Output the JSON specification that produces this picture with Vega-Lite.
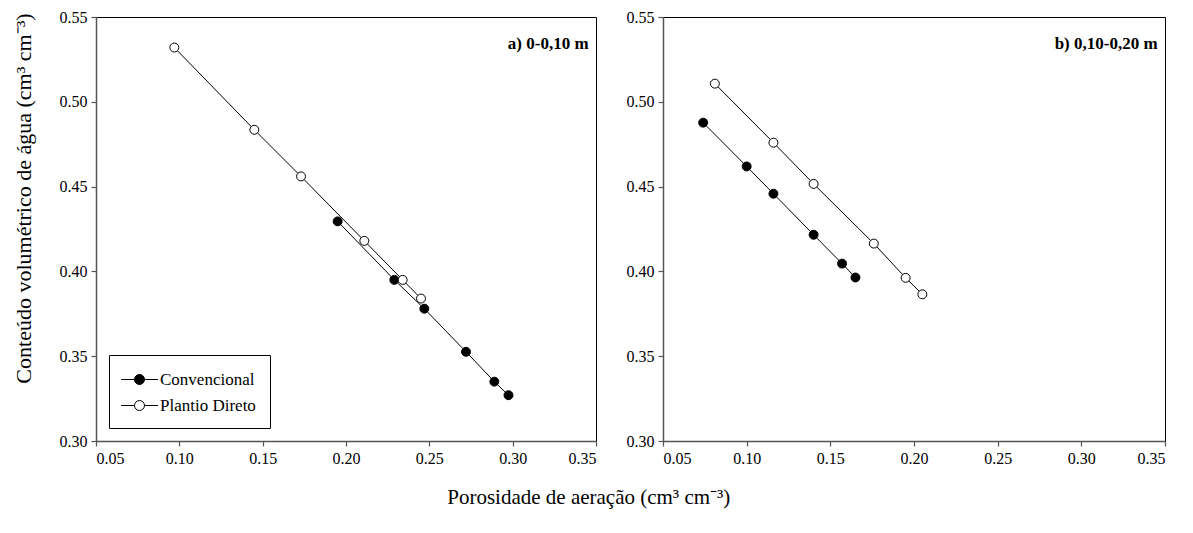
{
  "$schema": "https://vega.github.io/schema/vega-lite/v6.json",
  "background": "white",
  "padding": {"left": 11, "top": 8, "right": 5, "bottom": 5},
  "data": {"values": [
    {"panel": "a", "sistema": "Convencional", "x": 0.195, "y": 0.4295},
    {"panel": "a", "sistema": "Convencional", "x": 0.229, "y": 0.395},
    {"panel": "a", "sistema": "Convencional", "x": 0.247, "y": 0.378},
    {"panel": "a", "sistema": "Convencional", "x": 0.272, "y": 0.3526},
    {"panel": "a", "sistema": "Convencional", "x": 0.289, "y": 0.335},
    {"panel": "a", "sistema": "Convencional", "x": 0.2975, "y": 0.327},
    {"panel": "a", "sistema": "Plantio Direto", "x": 0.097, "y": 0.532},
    {"panel": "a", "sistema": "Plantio Direto", "x": 0.145, "y": 0.4835},
    {"panel": "a", "sistema": "Plantio Direto", "x": 0.173, "y": 0.456},
    {"panel": "a", "sistema": "Plantio Direto", "x": 0.211, "y": 0.418},
    {"panel": "a", "sistema": "Plantio Direto", "x": 0.234, "y": 0.395},
    {"panel": "a", "sistema": "Plantio Direto", "x": 0.245, "y": 0.384},
    {"panel": "b", "sistema": "Convencional", "x": 0.074, "y": 0.4877},
    {"panel": "b", "sistema": "Convencional", "x": 0.100, "y": 0.4619},
    {"panel": "b", "sistema": "Convencional", "x": 0.116, "y": 0.4458},
    {"panel": "b", "sistema": "Convencional", "x": 0.140, "y": 0.4216},
    {"panel": "b", "sistema": "Convencional", "x": 0.157, "y": 0.4046},
    {"panel": "b", "sistema": "Convencional", "x": 0.165, "y": 0.3964},
    {"panel": "b", "sistema": "Plantio Direto", "x": 0.081, "y": 0.5107},
    {"panel": "b", "sistema": "Plantio Direto", "x": 0.116, "y": 0.4759},
    {"panel": "b", "sistema": "Plantio Direto", "x": 0.140, "y": 0.4516},
    {"panel": "b", "sistema": "Plantio Direto", "x": 0.176, "y": 0.4164},
    {"panel": "b", "sistema": "Plantio Direto", "x": 0.195, "y": 0.3962},
    {"panel": "b", "sistema": "Plantio Direto", "x": 0.205, "y": 0.3865}
  ]},
  "config": {
    "font": "Liberation Serif, Times New Roman, serif",
    "view": {"stroke": "black", "strokeWidth": 1},
    "axis": {
      "labelFont": "Liberation Serif, Times New Roman, serif", "labelFontSize": 16, "labelColor": "black",
      "domainColor": "#555", "domainWidth": 1.5, "tickColor": "#555", "tickSize": 5, "tickWidth": 1.2,
      "grid": false, "titleFont": "Liberation Serif, Times New Roman, serif", "titleFontWeight": "normal", "titleColor": "black", "labelPadding": 4
    },
    "legend": {"labelFont": "Liberation Serif, Times New Roman, serif"},
    "title": {"font": "Liberation Serif, Times New Roman, serif", "color": "black"}
  },
  "title": {"text": "Porosidade de aeração (cm³ cm⁻³)", "orient": "bottom", "anchor": "middle", "font": "Liberation Serif, Times New Roman, serif", "fontSize": 21, "fontWeight": "normal", "offset": 20},
  "bounds": "flush",
  "spacing": 67,
  "hconcat": [
    {
      "width": 500, "height": 424,
      "title": {"text": "a) 0-0,10 m", "anchor": "end", "orient": "top", "offset": -44, "dx": -8, "font": "Liberation Serif, Times New Roman, serif", "fontSize": 17, "fontWeight": "bold"},
      "transform": [{"filter": "datum.panel === 'a'"}],
      "encoding": {
        "x": {"field": "x", "type": "quantitative", "scale": {"domain": [0.05, 0.35], "nice": false, "zero": false},
              "axis": {"values": [0.05, 0.10, 0.15, 0.20, 0.25, 0.30, 0.35], "format": ".2f", "title": null}},
        "y": {"field": "y", "type": "quantitative", "scale": {"domain": [0.30, 0.55], "nice": false, "zero": false},
              "axis": {"values": [0.30, 0.35, 0.40, 0.45, 0.50, 0.55], "format": ".2f", "title": "Conteúdo volumétrico de água (cm³ cm⁻³)", "titleFontSize": 22, "titlePadding": 24, "titleY": 181}}
      },
      "layer": [
        {"mark": {"type": "line", "color": "black", "strokeWidth": 1}, "encoding": {"detail": {"field": "sistema", "type": "nominal"}}},
        {"mark": {"type": "point", "shape": "circle", "size": 80, "stroke": "black", "strokeWidth": 1, "opacity": 1, "filled": true},
         "encoding": {"fill": {"field": "sistema", "type": "nominal",
           "scale": {"domain": ["Convencional", "Plantio Direto"], "range": ["black", "white"]},
           "legend": {"orient": "none", "legendX": 13, "legendY": 338, "title": null,
             "symbolType": "M-1.85,0L-0.5,0M0.5,0L1.85,0M-0.5,0A0.5,0.5,0,1,0,0.5,0A0.5,0.5,0,1,0,-0.5,0Z",
             "symbolSize": 400, "symbolStrokeColor": "black", "symbolStrokeWidth": 1,
             "strokeColor": "black", "fillColor": "white", "padding": 14, "symbolOffset": 6,
             "labelFont": "Liberation Serif, Times New Roman, serif", "labelFontSize": 17, "labelColor": "black", "labelOffset": 10, "rowPadding": 7}}}}
      ]
    },
    {
      "width": 502, "height": 424,
      "title": {"text": "b) 0,10-0,20 m", "anchor": "end", "orient": "top", "offset": -44, "dx": -8, "font": "Liberation Serif, Times New Roman, serif", "fontSize": 17, "fontWeight": "bold"},
      "transform": [{"filter": "datum.panel === 'b'"}],
      "encoding": {
        "x": {"field": "x", "type": "quantitative", "scale": {"domain": [0.05, 0.35], "nice": false, "zero": false},
              "axis": {"values": [0.05, 0.10, 0.15, 0.20, 0.25, 0.30, 0.35], "format": ".2f", "title": null}},
        "y": {"field": "y", "type": "quantitative", "scale": {"domain": [0.30, 0.55], "nice": false, "zero": false},
              "axis": {"values": [0.30, 0.35, 0.40, 0.45, 0.50, 0.55], "format": ".2f", "title": null}}
      },
      "layer": [
        {"mark": {"type": "line", "color": "black", "strokeWidth": 1}, "encoding": {"detail": {"field": "sistema", "type": "nominal"}}},
        {"transform": [{"filter": "datum.sistema === 'Convencional'"}],
         "mark": {"type": "point", "shape": "circle", "size": 80, "stroke": "black", "strokeWidth": 1, "opacity": 1, "fill": "black", "filled": true}},
        {"transform": [{"filter": "datum.sistema === 'Plantio Direto'"}],
         "mark": {"type": "point", "shape": "circle", "size": 80, "stroke": "black", "strokeWidth": 1, "opacity": 1, "fill": "white", "filled": true}}
      ]
    }
  ]
}
